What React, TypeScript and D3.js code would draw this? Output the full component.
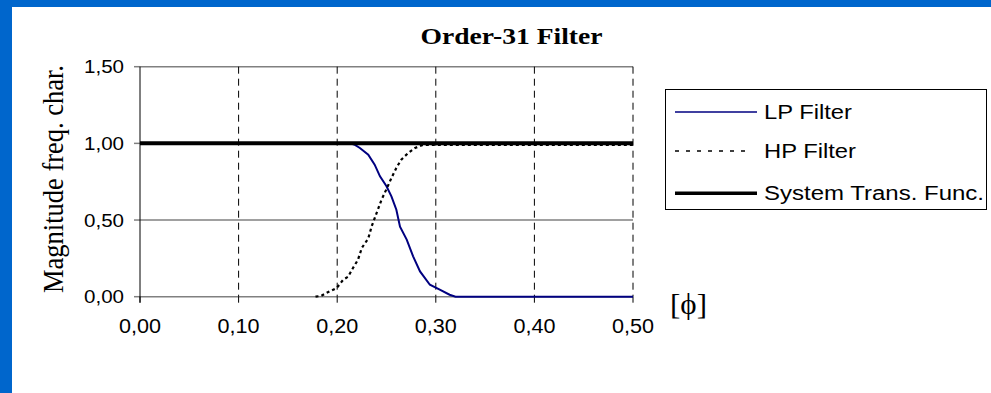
import React from "react";
import * as d3 from "d3";

const chartTitle = "Order-31 Filter";
const yAxisTitle = "Magnitude freq. char.";
const xAxisTitle = "[ϕ]";

const xTicks = [0, 0.1, 0.2, 0.3, 0.4, 0.5];
const xTickLabels = ["0,00", "0,10", "0,20", "0,30", "0,40", "0,50"];
const yTicks = [0, 0.5, 1.0, 1.5];
const yTickLabels = ["0,00", "0,50", "1,00", "1,50"];

const seriesNames = ["LP Filter", "HP Filter", "System Trans. Func."];

const lpX = [0.0, 0.21, 0.213, 0.218, 0.223, 0.2315, 0.238, 0.2434, 0.25, 0.255, 0.26, 0.2637, 0.2705, 0.277, 0.284, 0.294, 0.304, 0.314, 0.32, 0.5];
const lpY = [1.0, 1.0, 1.0, 0.99, 0.97, 0.926, 0.861, 0.785, 0.72, 0.654, 0.567, 0.457, 0.372, 0.263, 0.165, 0.078, 0.046, 0.013, 0.0, 0.0];

const hpX = [0.178, 0.184, 0.189, 0.1995, 0.206, 0.211, 0.216, 0.221, 0.225, 0.2315, 0.235, 0.24, 0.245, 0.251, 0.255, 0.26, 0.265, 0.272, 0.279, 0.287, 0.5];
const hpY = [0.0, 0.006, 0.024, 0.057, 0.11, 0.13, 0.187, 0.24, 0.318, 0.38, 0.46, 0.546, 0.633, 0.716, 0.774, 0.84, 0.894, 0.937, 0.97, 0.99, 0.99];

const sysX = [0.0, 0.5];
const sysY = [1.0, 1.0];

export default function App() {
  const W = 991;
  const H = 393;
  const x = d3.scaleLinear().domain([0, 0.5]).range([140, 633]);
  const y = d3.scaleLinear().domain([0, 1.5]).range([296.7, 66.7]);
  const line = d3
    .line<[number, number]>()
    .x((d) => x(d[0]))
    .y((d) => y(d[1]));
  const lp = line(lpX.map((v, i) => [v, lpY[i]]) as [number, number][]) || "";
  const hp = line(hpX.map((v, i) => [v, hpY[i]]) as [number, number][]) || "";
  const sys = line(sysX.map((v, i) => [v, sysY[i]]) as [number, number][]) || "";

  const navy = "#000080";
  const sans = "Liberation Sans, Arial, sans-serif";
  const serif = "Liberation Serif, Times New Roman, serif";

  return (
    <div style={{ position: "fixed", left: 0, top: 0, width: W, height: H }}>
      <svg width={W} height={H} viewBox={`0 0 ${W} ${H}`} style={{ display: "block" }}>
        <rect x={0} y={0} width={W} height={H} fill="#0066cc" />
        <rect x={12} y={7} width={W - 12} height={H - 7} fill="#ffffff" />

        {/* title */}
        <text
          x={511.5}
          y={44}
          textAnchor="middle"
          fontFamily={serif}
          fontWeight="bold"
          fontSize={24}
          textLength={182}
          lengthAdjust="spacingAndGlyphs"
          fill="#000"
        >
          {chartTitle}
        </text>

        {/* horizontal gridlines */}
        {yTicks.map((t) => (
          <line key={"hg" + t} x1={x(0)} x2={x(0.5)} y1={y(t)} y2={y(t)} stroke="#808080" strokeWidth={1.5} />
        ))}
        {/* y ticks */}
        {yTicks.map((t) => (
          <line key={"yt" + t} x1={x(0) - 6} x2={x(0)} y1={y(t)} y2={y(t)} stroke="#808080" strokeWidth={1.5} />
        ))}
        {/* vertical dashed gridlines */}
        {xTicks.slice(1).map((t) => (
          <line
            key={"vg" + t}
            x1={x(t)}
            x2={x(t)}
            y1={y(1.5)}
            y2={y(0)}
            stroke="#000"
            strokeWidth={1}
            strokeDasharray="7,5"
          />
        ))}
        {/* x ticks */}
        {xTicks.map((t) => (
          <line key={"xt" + t} x1={x(t)} x2={x(t)} y1={y(0)} y2={y(0) + 6} stroke="#000" strokeWidth={1} />
        ))}
        {/* left axis */}
        <line x1={x(0)} x2={x(0)} y1={y(1.5)} y2={y(0) + 6} stroke="#000" strokeWidth={1} />

        {/* series */}
        <path d={lp} fill="none" stroke={navy} strokeWidth={2} />
        <path d={hp} fill="none" stroke="#000" strokeWidth={2.2} strokeDasharray="3,3" />
        <path d={sys} fill="none" stroke="#000" strokeWidth={4} />

        {/* y tick labels */}
        {yTicks.map((t, i) => (
          <text
            key={"yl" + t}
            x={124}
            y={y(t) + 6.7}
            textAnchor="end"
            fontFamily={sans}
            fontSize={19}
            textLength={40}
            lengthAdjust="spacingAndGlyphs"
            fill="#000"
          >
            {yTickLabels[i]}
          </text>
        ))}
        {/* x tick labels */}
        {xTicks.map((t, i) => (
          <text
            key={"xl" + t}
            x={x(t)}
            y={333}
            textAnchor="middle"
            fontFamily={sans}
            fontSize={20}
            textLength={42}
            lengthAdjust="spacingAndGlyphs"
            fill="#000"
          >
            {xTickLabels[i]}
          </text>
        ))}

        {/* y axis title */}
        <g transform="translate(63,179) scale(1.12,1) rotate(-90)">
          <text
            x={0}
            y={0}
            textAnchor="middle"
            fontFamily={serif}
            fontSize={26}
            textLength={228}
            lengthAdjust="spacingAndGlyphs"
            fill="#000"
          >
            {yAxisTitle}
          </text>
        </g>

        {/* x axis title */}
        <text
          x={670}
          y={313.5}
          fontFamily={serif}
          fontSize={30}
          textLength={37}
          lengthAdjust="spacingAndGlyphs"
          fill="#000"
        >
          {xAxisTitle}
        </text>

        {/* legend */}
        <rect x={665.5} y={89.5} width={321} height={120} fill="#fff" stroke="#000" strokeWidth={1} />
        <line x1={675} x2={757} y1={112} y2={112} stroke={navy} strokeWidth={1.5} />
        <line x1={675} x2={752} y1={151} y2={151} stroke="#000" strokeWidth={1.5} strokeDasharray="4,7" />
        <line x1={675} x2={757} y1={193.3} y2={193.3} stroke="#000" strokeWidth={3.5} />
        {seriesNames.map((n, i) => (
          <text
            key={n}
            x={764}
            y={[119.3, 158.3, 200.3][i]}
            fontFamily={sans}
            fontSize={20}
            textLength={[88, 92, 220][i]}
            lengthAdjust="spacingAndGlyphs"
            fill="#000"
          >
            {n}
          </text>
        ))}
      </svg>
    </div>
  );
}
